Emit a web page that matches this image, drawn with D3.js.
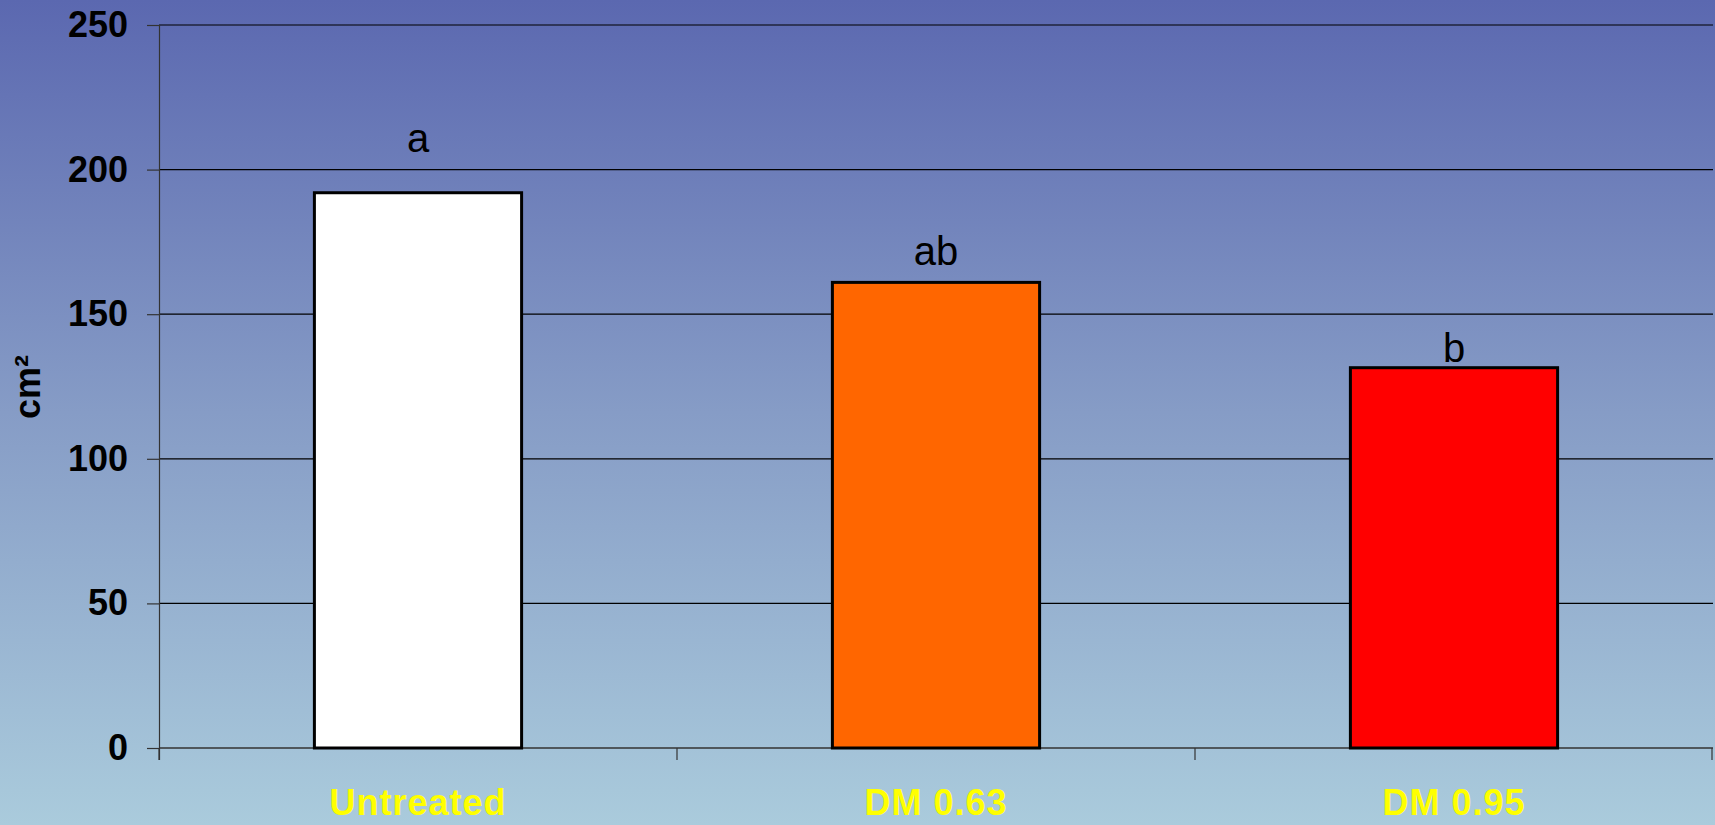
<!DOCTYPE html>
<html>
<head>
<meta charset="utf-8">
<script src="https://cdn.jsdelivr.net/npm/d3@7"></script>
<style>
  body { margin: 0; overflow: hidden; }
  text { font-family: "Liberation Sans", Arial, sans-serif; }
</style>
</head>
<body>
<svg id="chart" width="1715" height="825"></svg>
<script>
// data
const categories = ["Untreated", "DM 0.63", "DM 0.95"];
const areas = [192, 161, 131.5];
const letters = ["a", "ab", "b"];
const letterLevels = [206, 167, 133.5]; // baseline of letter, in cm² units
const barColours = ["#ffffff", "#ff6600", "#ff0000"];
const yTicks = [0, 50, 100, 150, 200, 250];

const W = 1715, H = 825;
const margin = { top: 25, right: 2, bottom: 77, left: 159 };
const width = W - margin.left - margin.right;
const height = H - margin.top - margin.bottom;

const svg = d3.select("#chart");

// background gradient
const defs = svg.append("defs");
const grad = defs.append("linearGradient")
  .attr("id", "bg").attr("x1", 0).attr("y1", 0).attr("x2", 0).attr("y2", 1);
grad.append("stop").attr("offset", "0%").attr("stop-color", "#5b68b0");
grad.append("stop").attr("offset", "50%").attr("stop-color", "#869cc6");
grad.append("stop").attr("offset", "100%").attr("stop-color", "#aacbdc");
svg.append("rect").attr("width", W).attr("height", H).attr("fill", "url(#bg)");

const g = svg.append("g").attr("transform", `translate(${margin.left},${margin.top})`);

const x = d3.scaleBand()
  .domain(categories)
  .range([0, width])
  .paddingInner(0.6)
  .paddingOuter(0.3);

const y = d3.scaleLinear().domain([0, 250]).range([height, 0]);

// gridlines
g.append("g").selectAll("line").data(yTicks.filter(d => d > 0)).join("line")
  .attr("x1", 0).attr("x2", width)
  .attr("y1", d => y(d)).attr("y2", d => y(d))
  .attr("stroke", "#000").attr("stroke-width", 1.2);

// y axis
const yAxis = g.append("g")
  .call(d3.axisLeft(y).tickValues(yTicks).tickSize(12).tickPadding(19));
yAxis.select(".domain").attr("stroke", "#333").attr("stroke-width", 1.2)
  .attr("d", `M-12,0.5H0.5V${height + 12}`);
yAxis.selectAll(".tick line").attr("stroke", "#333").attr("stroke-width", 1.2);
yAxis.selectAll(".tick text")
  .attr("font-size", 36).attr("font-weight", "bold").attr("fill", "#000")
  .attr("font-family", "Liberation Sans, Arial, sans-serif");

// x axis line and boundary ticks
const step = x.step();
g.append("line")
  .attr("x1", 0).attr("x2", width)
  .attr("y1", height).attr("y2", height)
  .attr("stroke", "#333").attr("stroke-width", 1.5);
g.append("g").selectAll("line").data(d3.range(categories.length + 1)).join("line")
  .attr("x1", i => Math.min(i * step, width - 1)).attr("x2", i => Math.min(i * step, width - 1))
  .attr("y1", height).attr("y2", height + 12)
  .attr("stroke", "#333").attr("stroke-width", 1.2);

// bars
g.append("g").selectAll("rect").data(areas).join("rect")
  .attr("x", (d, i) => x(categories[i]))
  .attr("width", x.bandwidth())
  .attr("y", d => y(d))
  .attr("height", d => height - y(d))
  .attr("fill", (d, i) => barColours[i])
  .attr("stroke", "#000").attr("stroke-width", 3);

// significance letters
g.append("g").selectAll("text").data(letters).join("text")
  .attr("x", (d, i) => x(categories[i]) + x.bandwidth() / 2)
  .attr("y", (d, i) => y(letterLevels[i]))
  .attr("text-anchor", "middle")
  .attr("font-size", 40)
  .attr("fill", "#000")
  .text(d => d);

// category labels
g.append("g").selectAll("text").data(categories).join("text")
  .attr("x", d => x(d) + x.bandwidth() / 2)
  .attr("y", height + 67)
  .attr("text-anchor", "middle")
  .attr("font-size", 36).attr("font-weight", "bold")
  .attr("letter-spacing", 1)
  .attr("fill", "#ffff00")
  .text(d => d);

// y axis title
svg.append("text")
  .attr("transform", `translate(40,387) rotate(-90)`)
  .attr("text-anchor", "middle")
  .attr("font-size", 36).attr("font-weight", "bold")
  .attr("fill", "#000")
  .text("cm²");
</script>
</body>
</html>
